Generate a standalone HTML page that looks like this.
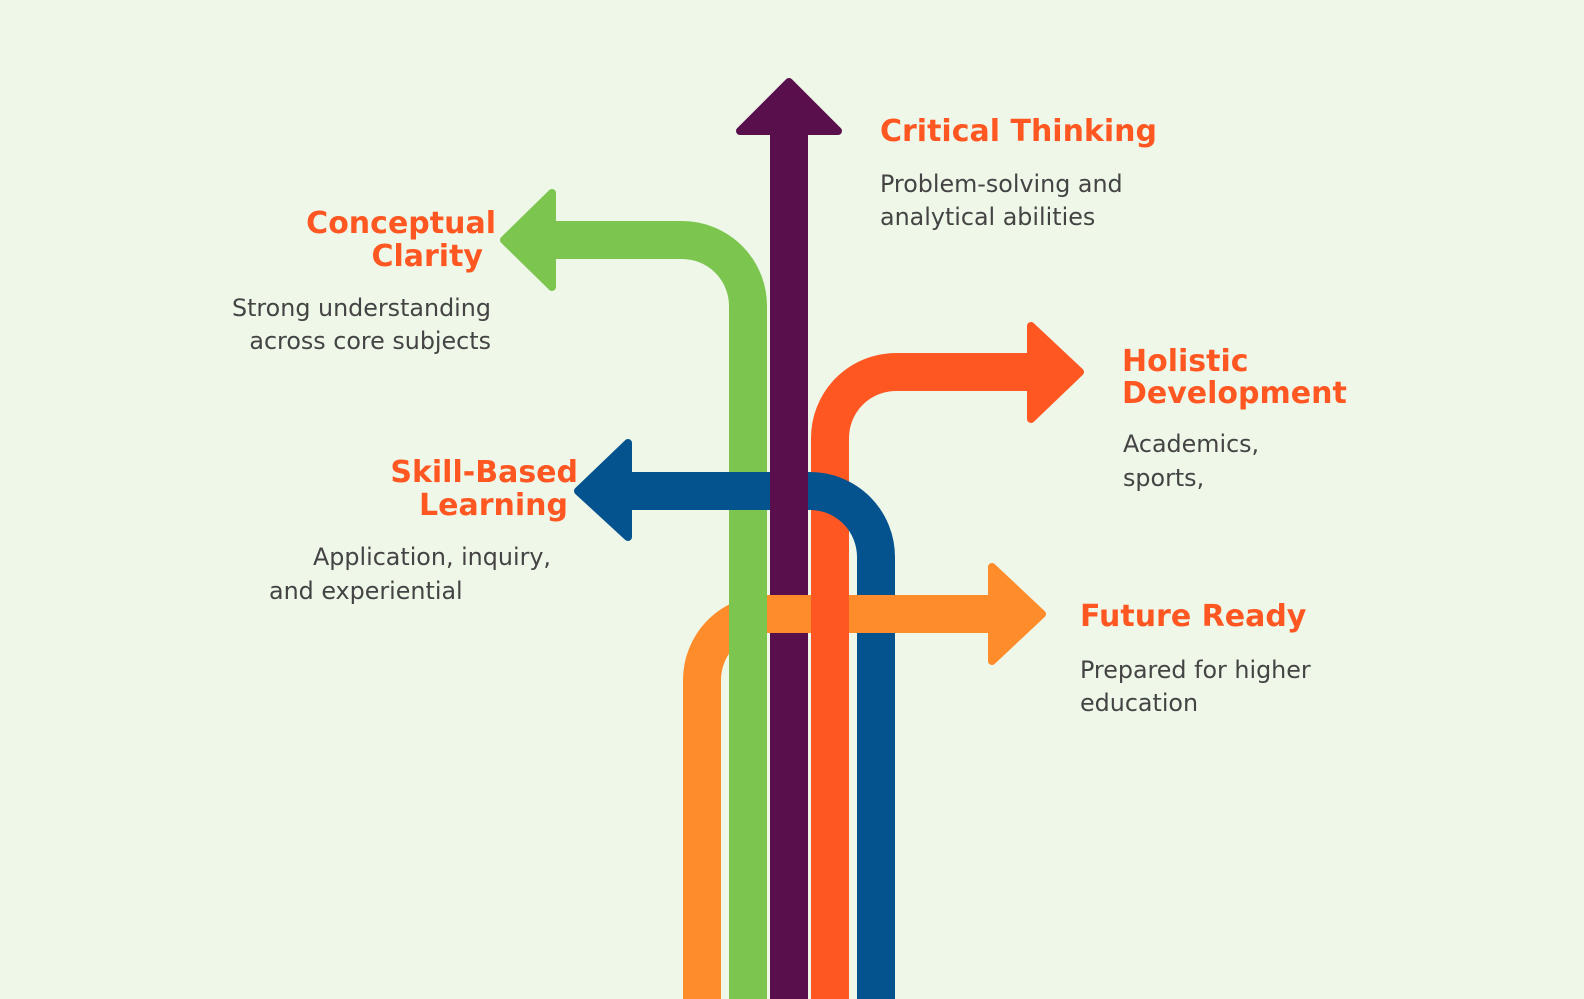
<!DOCTYPE html>
<html><head><meta charset="utf-8"><style>
html,body{margin:0;padding:0;background:#eff7e9;}
svg{display:block}
.t{font-family:"DejaVu Sans","Liberation Sans",sans-serif;font-weight:bold;font-size:30px;fill:#ff5722}
.d{font-family:"DejaVu Sans","Liberation Sans",sans-serif;font-size:23.8px;fill:#444}
</style></head><body>
<svg width="1584" height="999" viewBox="0 0 1584 999">
<rect width="1584" height="999" fill="#eff7e9"/>
<g fill="none" stroke-width="38" stroke-linecap="butt">
<path d="M876 999 V557" stroke="#04538f"/>
<path d="M789 999 V128" stroke="#5a0f4d"/>
<path d="M702 999 V680 A66 66 0 0 1 768 614 H990" stroke="#ff8c2a"/>
<path d="M748 999 V306 A66 66 0 0 0 682 240 H554" stroke="#7cc650"/>
<path d="M830 999 V438 A66 66 0 0 1 896 372 H1029" stroke="#ff5722"/>
<path d="M876 558 V557 A66 66 0 0 0 810 491 H630" stroke="#04538f"/>
<path d="M789 470 V512" stroke="#5a0f4d"/>
</g>
<g stroke-linejoin="round" stroke-width="8">
<polygon points="740,131 789,82 838,131" fill="#5a0f4d" stroke="#5a0f4d"/>
<polygon points="552,193 504,240 552,287" fill="#7cc650" stroke="#7cc650"/>
<polygon points="1031,326 1080,372 1031,419" fill="#ff5722" stroke="#ff5722"/>
<polygon points="628,443 578,491 628,537" fill="#04538f" stroke="#04538f"/>
<polygon points="992,567 1042,614 992,661" fill="#ff8c2a" stroke="#ff8c2a"/>
</g>
<text class="t" x="880" y="141">Critical Thinking</text>
<text class="d" x="880" y="192">Problem-solving and</text>
<text class="d" x="880" y="225">analytical abilities</text>
<text class="t" x="496" y="233" text-anchor="end">Conceptual</text>
<text class="t" x="483" y="266" text-anchor="end">Clarity</text>
<text class="d" x="491" y="316" text-anchor="end">Strong understanding</text>
<text class="d" x="491" y="349" text-anchor="end">across core subjects</text>
<text class="t" x="1122" y="371">Holistic</text>
<text class="t" x="1122" y="403">Development</text>
<text class="d" x="1123" y="452">Academics,</text>
<text class="d" x="1123" y="486">sports,</text>
<text class="t" x="578" y="482" text-anchor="end">Skill-Based</text>
<text class="t" x="568" y="515" text-anchor="end">Learning</text>
<text class="d" x="551" y="565" text-anchor="end">Application, inquiry,</text>
<text class="d" x="269" y="599">and experiential</text>
<text class="t" x="1080" y="626">Future Ready</text>
<text class="d" x="1080" y="678">Prepared for higher</text>
<text class="d" x="1080" y="711">education</text>
</svg>
</body></html>
